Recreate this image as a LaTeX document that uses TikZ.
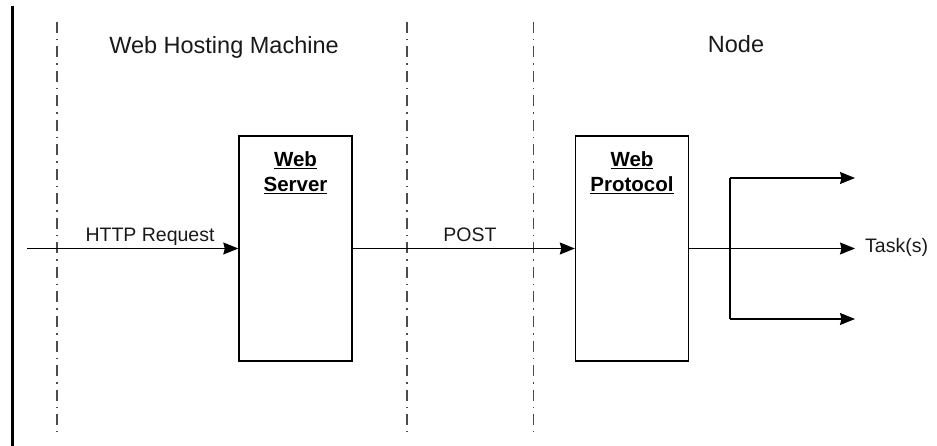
\documentclass[tikz,border=0pt]{standalone}
\usepackage{fontspec}
\setmainfont{Liberation Sans}
\usetikzlibrary{arrows.meta}
\begin{document}
\begin{tikzpicture}[x=1pt,y=-1pt,
  boxnode/.style={draw=black,line width=1.4pt,minimum width=113pt,minimum height=225pt,inner sep=0pt},
  divline/.style={draw=black!70,line width=1.1pt,dash pattern=on 11pt off 6pt on 1.5pt off 6pt},
  conn/.style={draw=black,line width=1.2pt},
  arr/.style={conn,-{Stealth[length=15pt,width=12pt,inset=1.5pt]}},
  title/.style={font=\fontsize{23.5}{28}\selectfont,text=black!90,inner sep=0pt,anchor=base},
  lbl/.style={font=\fontsize{19.5}{23}\selectfont,text=black!90,inner sep=0pt,anchor=base},
  boxlbl/.style={font=\fontsize{20.5}{25}\selectfont\bfseries,inner sep=0pt,anchor=base}
]
\useasboundingbox (0,0) rectangle (937,446);
% left thick border
\coordinate (bt) at (12.5,6);
\coordinate (bb) at (12.5,446);
\draw[line width=3pt] (bt) -- (bb);
% divider lines
\coordinate (d1t) at (57,22); \coordinate (d1b) at (57,432);
\coordinate (d2t) at (407,22); \coordinate (d2b) at (407,432);
\coordinate (d3t) at (533.5,22); \coordinate (d3b) at (533.5,432);
\draw[divline] (d1t) -- (d1b);
\draw[divline] (d2t) -- (d2b);
\draw[divline] (d3t) -- (d3b);
% titles
\node[title] (t1) at (224,54) {Web Hosting Machine};
\node[title] (t2) at (736,53) {Node};
% boxes
\node[boxnode] (ws) at (295.5,248.5) {};
\node[boxnode] (wp) at (632,248.5) {};
\node[boxlbl] (ws1) at (295.5,167) {\underline{Web}};
\node[boxlbl] (ws2) at (295.5,192) {\underline{Server}};
\node[boxlbl] (wp1) at (632,167) {\underline{Web}};
\node[boxlbl] (wp2) at (632,192) {\underline{Protocol}};
% connectors
\coordinate (in) at (27,248.5);
\draw[arr] (in) -- (ws.west);
\node[lbl] (http) at (150,242) {HTTP Request};
\draw[arr] (ws.east) -- (wp.west);
\node[lbl] (post) at (470,242) {POST};
\coordinate (br) at (730,248.5);
\coordinate (brt) at (730,178);
\coordinate (brb) at (730,319);
\coordinate (e1) at (855,178);
\coordinate (e2) at (855,248.5);
\coordinate (e3) at (855,319);
\draw[arr] (wp.east) -- (e2);
\draw[conn] (brt) -- (brb);
\draw[arr] (brt) -- (e1);
\draw[arr] (brb) -- (e3);
\node[lbl,anchor=base west] (task) at (865,253) {Task(s)};
\end{tikzpicture}
\end{document}
